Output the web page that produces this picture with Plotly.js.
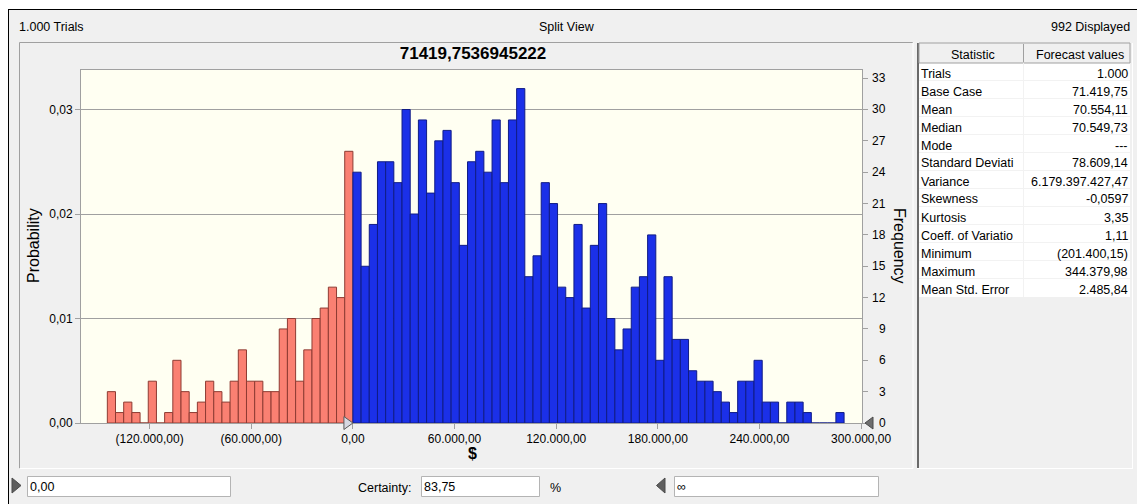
<!DOCTYPE html>
<html>
<head>
<meta charset="utf-8">
<script src="https://cdn.plot.ly/plotly-3.0.1.min.js"></script>
<style>html,body{margin:0;padding:0;background:#fff;}#chart{width:1137px;height:504px;}</style>
</head>
<body>
<div id="chart"></div>
<script>
// ---------------- data ----------------
const chartTitle = '71419,7536945222';
const binStart = -144960;          // left edge of first bin ($)
const binWidth = 4832;             // bin width ($)
const certaintyLow = 0;            // lower certainty bound ($)
const frequencies = [
  // below 0 (30 bins)
  3,1,2,1,0,4,0,1,6,3,1,2,4,3,2,4,7,4,4,3,3,9,10,4,7,10,11,13,12,26,
  // from 0 upward (60 bins)
  24,15,19,25,25,23,30,20,29,22,27,28,23,17,25,26,24,29,23,29,
  32,14,16,23,21,13,12,19,11,17,21,10,7,9,13,14,18,6,14,8,
  8,5,4,4,3,2,1,4,4,6,2,2,0,2,2,1,0,0,0,1
];
const trials = 1000;
const xTickVals = [-120000,-60000,0,60000,120000,180000,240000,300000];
const xTickText = ['(120.000,00)','(60.000,00)','0,00','60.000,00','120.000,00','180.000,00','240.000,00','300.000,00'];
const probTickVals = [0,0.01,0.02,0.03];
const probTickText = ['0,00','0,01','0,02','0,03'];
const freqTickVals = [0,3,6,9,12,15,18,21,24,27,30,33];
const freqTickText = ['0','3','6','9','12','15','18','21','24','27','30','33'];
const statNames = ['Trials','Base Case','Mean','Median','Mode','Standard Deviati','Variance','Skewness','Kurtosis','Coeff. of Variatio','Minimum','Maximum','Mean Std. Error'];
const statValues = ['1.000','71.419,75','70.554,11','70.549,73','---','78.609,14','6.179.397.427,47','-0,0597','3,35','1,11','(201.400,15)','344.379,98','2.485,84'];
const tableHeader = ['Statistic','Forecast values'];
const headerLeft = '1.000 Trials', headerMid = 'Split View', headerRight = '992 Displayed';
const lowerBoundText = '0,00', certaintyText = '83,75', upperBoundText = '\u221E';

// ---------------- layout helpers ----------------
const W = 1137, H = 504;
const px = v => v / W;
const py = v => 1 - v / H;
const FONT = 'Liberation Sans, Arial, sans-serif';
const plotL = 81, plotR = 862, plotT = 70, plotB = 423;
const xRange = [-160500, 300500];
const freqMax = 33.78;
const dollarsPerPx = (xRange[1] - xRange[0]) / (plotR - plotL);

const binCenters = frequencies.map((_, i) => binStart + (i + 0.5) * binWidth);
const barColors = binCenters.map(c => c < certaintyLow ? '#fa8072' : '#1b30e8');
const barLines = binCenters.map(c => c < certaintyLow ? '#8e3b33' : '#101c86');

const trace = {
  type: 'bar',
  x: binCenters,
  y: frequencies,
  width: binWidth,
  xaxis: 'x', yaxis: 'y2',
  marker: { color: barColors, line: { color: barLines, width: 1 } },
  hoverinfo: 'skip'
};
// invisible trace on probability axis so the left axis is drawn
const probTrace = {
  type: 'scatter', mode: 'none',
  x: [binCenters[0]], y: [frequencies[0] / trials],
  xaxis: 'x', yaxis: 'y', showlegend: false, hoverinfo: 'skip'
};

function line(x0, y0, x1, y1, color, width) {
  return { type: 'line', xref: 'paper', yref: 'paper', x0: px(x0), y0: py(y0), x1: px(x1), y1: py(y1),
    line: { color: color, width: width || 1 } };
}
function rect(x0, y0, x1, y1, fill, lineColor, lw) {
  return { type: 'rect', xref: 'paper', yref: 'paper', x0: px(x0), y0: py(y0), x1: px(x1), y1: py(y1),
    fillcolor: fill, line: { color: lineColor || fill, width: lineColor ? (lw || 1) : 0 } };
}
function tri(pts, fill, lineColor) {
  const d = 'M ' + pts.map(p => px(p[0]) + ',' + py(p[1])).join(' L ') + ' Z';
  return { type: 'path', xref: 'paper', yref: 'paper', path: d, fillcolor: fill,
    line: { color: lineColor || fill, width: 1 } };
}
function text(t, x, y, anchor, opts) {
  opts = opts || {};
  return Object.assign({ text: t, xref: 'paper', yref: 'paper', x: px(x), y: py(y), xanchor: anchor, yanchor: 'middle',
    showarrow: false, borderpad: 0, borderwidth: 0,
    font: { family: FONT, size: opts.size || 12.5, color: '#000', weight: opts.weight || 'normal' } }, opts.extra || {});
}

const shapes = [
  // outer white margin + black frame
  rect(0, 0, W, 9, '#ffffff'),
  rect(0, 0, 8, H, '#ffffff'),
  line(8, 9.5, W, 9.5, '#000000', 1),
  line(8.5, 9, 8.5, H, '#000000', 1),
  // chart panel
  line(19.5, 42.5, 913, 42.5, '#a0a0a0'),
  line(19.5, 42.5, 19.5, 468.5, '#a0a0a0'),
  line(19.5, 468.5, 913, 468.5, '#ffffff'),
  line(913, 42.5, 913, 468.5, '#ffffff'),
  // table panel
  line(918, 43, 918, 468, '#6a6a6a', 2),
  line(917, 468.5, 1133, 468.5, '#ffffff'),
  line(1132.5, 43, 1132.5, 468.5, '#ffffff'),
  rect(919, 63, 1130, 297, '#ffffff'),
  rect(919, 43, 1130, 63, '#f0f0f0', '#a0a0a0'),
  line(1023.5, 44, 1023.5, 62, '#a0a0a0'),
  line(1023.5, 63, 1023.5, 297, '#f2f2f2'),
  // input boxes
  rect(27.5, 476.5, 230.5, 496.5, '#ffffff', '#b4b4b4'),
  rect(421.5, 476.5, 539.5, 496.5, '#ffffff', '#b4b4b4'),
  rect(674.5, 476.5, 878.5, 496.5, '#ffffff', '#b4b4b4'),
  // slider triangles
  tri([[12, 478], [21, 485.5], [12, 493]], '#5e5e5e', '#4a4a4a'),
  tri([[665, 478], [656.5, 485.5], [665, 493]], '#5e5e5e', '#4a4a4a'),
  tri([[873, 417], [865, 423], [873, 429]], '#6e6e6e', '#4a4a4a'),
  // certainty marker at lower bound on the x axis
  { type: 'path', xref: 'x', yref: 'paper',
    path: 'M ' + (certaintyLow - 9 * dollarsPerPx) + ',' + py(416.5) + ' L ' + certaintyLow + ',' + py(423) +
          ' L ' + (certaintyLow - 9 * dollarsPerPx) + ',' + py(429.5) + ' Z',
    fillcolor: '#d6d8e2', line: { color: '#5a5a5a', width: 1 }, layer: 'above' }
];
for (let i = 1; i < statNames.length; i++) {
  shapes.push(line(919, 63 + 18 * i - 0.5, 1130, 63 + 18 * i - 0.5, '#f2f2f2'));
}

const annotations = [
  text(headerLeft, 19, 26.5, 'left'),
  text(headerMid, 567, 26.5, 'center'),
  text(headerRight, 1130, 26.5, 'right'),
  text('Probability', 33, 246, 'center', { size: 16, extra: { textangle: -90 } }),
  text('Frequency', 900, 246, 'center', { size: 16, extra: { textangle: 90 } }),
  text('$', 472, 453, 'center', { size: 16, weight: 'bold' }),
  text(tableHeader[0], 973, 55, 'center'),
  text(tableHeader[1], 1080, 55, 'center'),
  text(lowerBoundText, 30, 486.5, 'left'),
  text('Certainty:', 412, 487.5, 'right'),
  text(certaintyText, 424, 486.5, 'left'),
  text('%', 555, 487.5, 'center'),
  text(upperBoundText, 677, 486.5, 'left')
];
statNames.forEach((n, i) => {
  annotations.push(text(n, 921, 73.5 + 18 * i, 'left'));
  annotations.push(text(statValues[i], 1128, 73.5 + 18 * i, 'right'));
});
// right-aligned frequency tick labels, placed on the frequency axis scale
freqTickVals.forEach((v, i) => {
  annotations.push({ text: freqTickText[i], xref: 'paper', yref: 'y2', x: px(886.5), y: v,
    xanchor: 'right', yanchor: 'middle', showarrow: false, borderpad: 0, borderwidth: 0,
    font: { family: FONT, size: 12, color: '#000' } });
});

const tickFont = { family: FONT, size: 12, color: '#000' };
const layout = {
  width: W, height: H,
  margin: { l: 0, r: 0, t: 0, b: 0, pad: 0 },
  paper_bgcolor: '#f0f0f0',
  plot_bgcolor: '#fffff2',
  showlegend: false,
  bargap: 0,
  title: { text: chartTitle, x: px(473), xanchor: 'center', y: py(53.5), yanchor: 'middle',
    font: { family: FONT, size: 17, color: '#000', weight: 'bold' } },
  xaxis: {
    domain: [px(plotL), px(plotR)], range: xRange, anchor: 'y',
    tickmode: 'array', tickvals: xTickVals, ticktext: xTickText,
    ticks: 'outside', ticklen: 5, tickcolor: '#a0a0a0', tickfont: tickFont,
    showline: true, linecolor: '#a0a0a0', linewidth: 1, mirror: true,
    showgrid: false, zeroline: false, fixedrange: true
  },
  yaxis: {
    domain: [py(plotB), py(plotT)], range: [0, freqMax / trials], anchor: 'x',
    tickmode: 'array', tickvals: probTickVals, ticktext: probTickText,
    ticks: 'outside', ticklen: 5, tickcolor: '#a0a0a0', tickfont: tickFont,
    showline: true, linecolor: '#a0a0a0', linewidth: 1, mirror: true,
    showgrid: true, gridcolor: '#a0a0a0', gridwidth: 1, zeroline: false, fixedrange: true
  },
  yaxis2: {
    domain: [py(plotB), py(plotT)], range: [0, freqMax], overlaying: 'y', side: 'right', anchor: 'x',
    tickmode: 'array', tickvals: freqTickVals, ticktext: freqTickText, showticklabels: false,
    ticks: 'outside', ticklen: 5, tickcolor: '#a0a0a0', tickfont: tickFont,
    showline: false, showgrid: false, zeroline: false, fixedrange: true
  },
  shapes: shapes,
  annotations: annotations
};

Plotly.newPlot('chart', [probTrace, trace], layout, { displayModeBar: false, staticPlot: true });
</script>
</body>
</html>
